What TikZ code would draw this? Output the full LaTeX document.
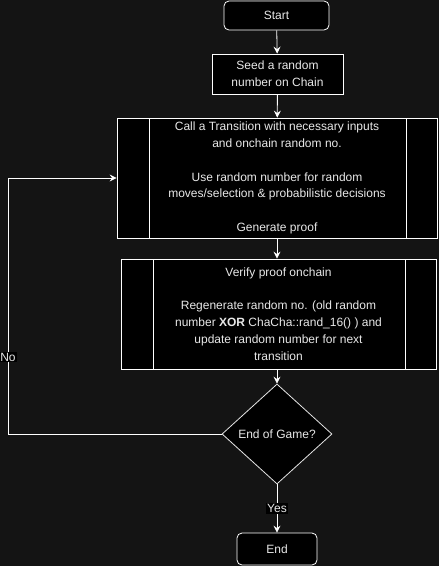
\documentclass[tikz,border=0pt]{standalone}
\usepackage{fontspec}
\setmainfont{Liberation Sans}
\usetikzlibrary{arrows.meta,shapes.geometric,positioning}
\definecolor{bgdark}{RGB}{20,20,20}
\definecolor{txtlight}{RGB}{232,232,232}
\newcommand{\flowfont}{\fontsize{12}{16.8}\selectfont}
\tikzset{
  flow/.style={-{Stealth[length=7pt,width=7pt,inset=2.5pt]}, white, line width=0.8pt},
  plainflow/.style={white, line width=0.8pt},
  terminal/.style={draw=white, fill=black, rounded corners=5pt, text=txtlight, font=\flowfont, line width=0.8pt},
  procbox/.style={draw=white, fill=black, text=txtlight, align=center, font=\flowfont, line width=0.8pt},
  subproc/.style={procbox, path picture={
      \draw[white, line width=0.8pt]
        ([xshift=32pt]path picture bounding box.north west) -- ([xshift=32pt]path picture bounding box.south west)
        ([xshift=-31pt]path picture bounding box.north east) -- ([xshift=-31pt]path picture bounding box.south east);}},
  decision/.style={diamond, draw=white!80!gray, fill=black, text=txtlight, inner sep=0pt, font=\flowfont, line width=0.8pt},
  edgelabel/.style={fill=black, text=txtlight, inner sep=1pt, font=\flowfont}
}

\begin{document}
\begin{tikzpicture}[x=1pt, y=-1pt]
  \fill[bgdark] (0,0) rectangle (439,566);
  \useasboundingbox (0,0) rectangle (439,566);

  \node[terminal, minimum width=105pt, minimum height=29pt] (start) at (276.5,15.5) {Start};
  \node[procbox, minimum width=131pt, minimum height=40pt] (seed) at (277.5,74) {Seed a random\\ number on Chain};
  \node[subproc, minimum width=320pt, minimum height=120pt] (trans) at (277,178)
    {Call a Transition with necessary inputs\\ and onchain random no.\\[16.8pt]
     Use random number for random\\ moves/selection \& probabilistic decisions\\[16.8pt]
     Generate proof};
  \node[subproc, minimum width=315pt, minimum height=110pt] (verify) at (278.5,314)
    {Verify proof onchain\\[16.8pt]
     Regenerate random no. (old random\\ number \textbf{XOR} ChaCha::rand\_16() ) and\\
     update random number for next\\ transition};
  \node[decision, minimum width=110pt, minimum height=100pt] (game) at (277,434) {End of Game?};
  \node[terminal, minimum width=80pt, minimum height=32pt] (end) at (277,549) {End};
  \coordinate (loop) at (8,434);

  \draw[flow] (start) -- (seed);
  \draw[flow] (seed) -- (trans);
  \draw[flow] (trans.south) -- (verify.north -| trans.south);
  \draw[flow] (verify.south -| game.north) -- (game.north);
  \draw[flow] (game) -- node[edgelabel]{Yes} (end);
  \draw[flow] (game.west) -- (loop) |- node[edgelabel, pos=0.15]{No} (trans.west);
\end{tikzpicture}
\end{document}
